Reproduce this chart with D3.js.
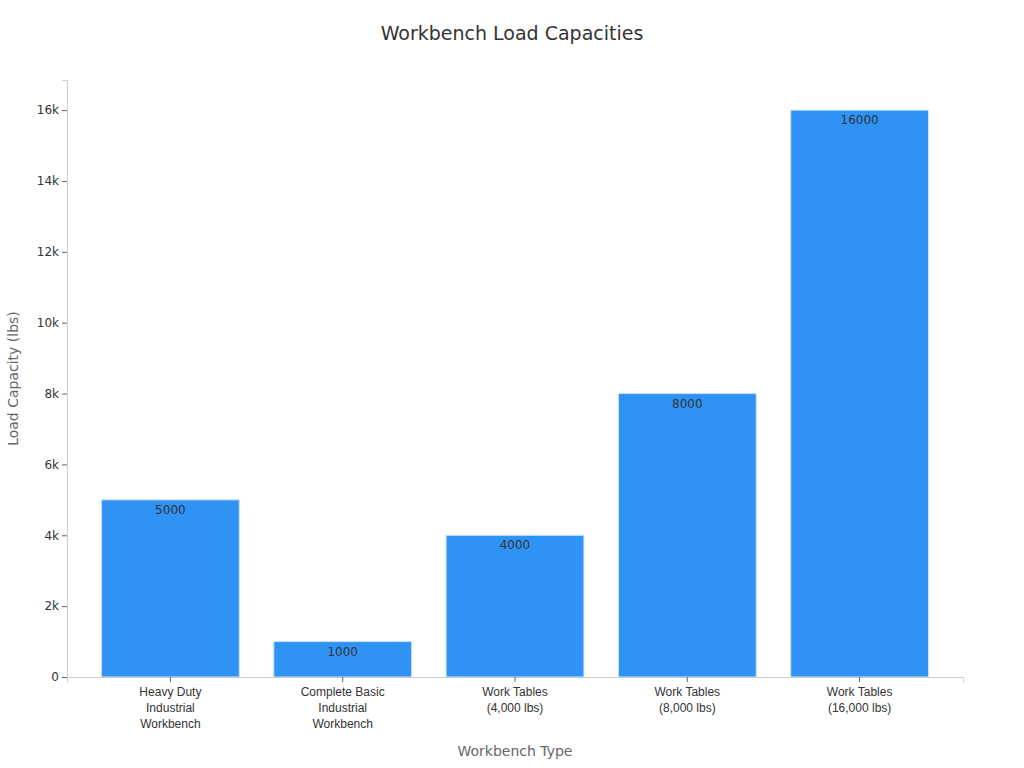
<!DOCTYPE html>
<html><head><meta charset="utf-8">
<script src="https://cdn.jsdelivr.net/npm/d3@7"></script>
<style>body{margin:0;background:#fff;font-family:"DejaVu Sans",sans-serif}</style>
</head><body><svg id="c" width="1024" height="768"></svg>
<script>
const categories = [
  ['Heavy Duty', 'Industrial', 'Workbench'],
  ['Complete Basic', 'Industrial', 'Workbench'],
  ['Work Tables', '(4,000 lbs)'],
  ['Work Tables', '(8,000 lbs)'],
  ['Work Tables', '(16,000 lbs)']
];
const values = [5000, 1000, 4000, 8000, 16000];
const yTicks = [0, 2000, 4000, 6000, 8000, 10000, 12000, 14000, 16000];

const svg = d3.select('#c');
const m = {left: 67, right: 963, top: 80, bottom: 677};
const x = d3.scaleBand().domain(d3.range(values.length)).range([m.left, m.right]).padding(0.2);
const y = d3.scaleLinear().domain([0, 16850]).range([m.bottom, m.top]);

svg.append('text').attr('x', 512).attr('y', 40).attr('text-anchor', 'middle')
  .attr('font-size', 19).attr('fill', '#333').text('Workbench Load Capacities');

// bars
svg.append('g').selectAll('rect').data(values).join('rect')
  .attr('x', (d, i) => x(i)).attr('width', x.bandwidth())
  .attr('y', d => y(d)).attr('height', d => y(0) - y(d))
  .attr('fill', '#2e93f5').attr('stroke', '#cfe3f7').attr('stroke-width', 1);

svg.append('g').selectAll('text').data(values).join('text')
  .attr('x', (d, i) => x(i) + x.bandwidth() / 2).attr('y', d => y(d) + 14)
  .attr('text-anchor', 'middle').attr('font-size', 12).attr('fill', '#333').text(d => d);

// y axis
const ya = svg.append('g').attr('transform', `translate(${m.left},0)`)
  .call(d3.axisLeft(y).tickValues(yTicks).tickSize(5).tickFormat(d => d === 0 ? '0' : d / 1000 + 'k'));
ya.select('.domain').attr('stroke', '#ccc');
ya.selectAll('.tick line').attr('stroke', '#666');
ya.selectAll('.tick text').attr('font-size', 12).attr('fill', '#333').attr('font-family', 'DejaVu Sans');

// x axis
const xa = svg.append('g').attr('transform', `translate(0,${m.bottom})`)
  .call(d3.axisBottom(x).tickSize(5).tickFormat(''));
xa.select('.domain').attr('stroke', '#ccc');
xa.selectAll('.tick line').attr('stroke', '#666');
xa.selectAll('.tick').each(function (d) {
  const t = d3.select(this).append('text').attr('y', 19).attr('text-anchor', 'middle')
    .attr('font-size', 12).attr('fill', '#333');
  categories[d].forEach((l, k) => t.append('tspan').attr('x', 0).attr('dy', k ? 16 : 0).text(l));
});

svg.append('text').attr('x', (m.left + m.right) / 2).attr('y', 756).attr('text-anchor', 'middle')
  .attr('font-size', 14).attr('fill', '#666').text('Workbench Type');
svg.append('text').attr('transform', `translate(18,${(m.top + m.bottom) / 2}) rotate(-90)`)
  .attr('text-anchor', 'middle').attr('font-size', 14).attr('fill', '#666').text('Load Capacity (lbs)');
</script></body></html>
